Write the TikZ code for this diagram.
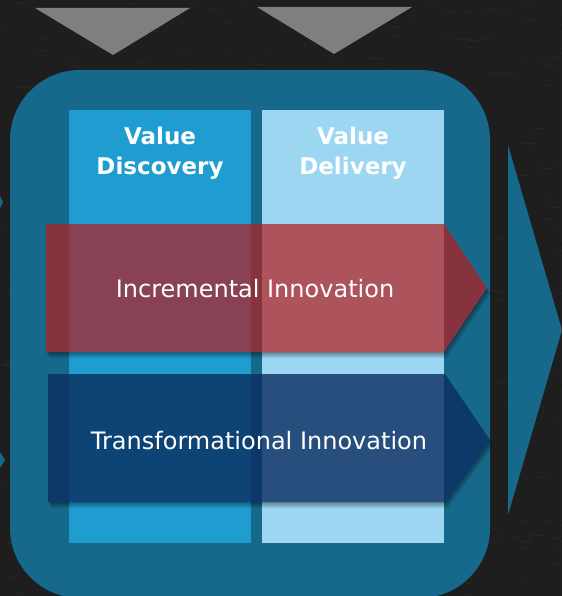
\documentclass[tikz,border=0pt]{standalone}
\usepackage{fontspec}
\setmainfont{DejaVu Sans}
\definecolor{bgdark}{HTML}{1E1E1E}
\definecolor{boxteal}{HTML}{16698A}
\definecolor{colone}{HTML}{1F9DD1}
\definecolor{coltwo}{HTML}{9DD6F0}
\definecolor{tri}{HTML}{7F7F7F}
\definecolor{arrred}{RGB}{180,30,32}
\definecolor{arrblue}{RGB}{10,45,95}
\tikzset{
  colbox/.style={draw=none, inner sep=0pt, anchor=north west, minimum width=182pt, minimum height=433pt},
  headtext/.style={text=white, font=\bfseries\fontsize{23}{28}\selectfont, anchor=base},
  arrtext/.style={text=white, font=\fontsize{24}{28}\selectfont, anchor=base},
  streak/.style={draw=gray, line width=0.8pt, opacity=0.12},
  shadowlayer/.style={fill=black, fill opacity=0.07},
}
\begin{document}
\begin{tikzpicture}[x=1pt,y=-1pt]
\fill[bgdark] (0,0) rectangle (562,596);
\useasboundingbox (0,0) rectangle (562,596);
% background texture
\pgfmathsetseed{42}
\foreach \i in {1,...,500}{
  \pgfmathsetmacro{\sx}{random(0,562)}
  \pgfmathsetmacro{\sy}{random(0,596)}
  \pgfmathsetmacro{\sl}{random(3,14)}
  \draw[streak] (\sx,\sy) -- ++(\sl,0.4);
}
% gray triangles at top
\fill[tri] (35,8) -- (190,8) -- (113,55) -- cycle;
\fill[tri] (257,7) -- (412,7) -- (334,54) -- cycle;
% left small arrow tips
\fill[boxteal] (0,196) -- (3,202) -- (0,208) -- cycle;
\fill[boxteal] (0,452) -- (5,460) -- (0,468) -- cycle;
% right big arrow
\fill[boxteal] (508,145) -- (562,330) -- (508,515) -- cycle;
% big rounded box
\fill[boxteal, rounded corners=70pt] (10,70) rectangle (490,598);
% columns
\node[colbox, fill=colone] (disc) at (69,110) {};
\node[colbox, fill=coltwo] (deli) at (262,110) {};
\node[headtext] (discA) at (160,145) {Value};
\node[headtext] (discB) at (160,174) {Discovery};
\node[headtext] (deliA) at (353,145) {Value};
\node[headtext] (deliB) at (353,174) {Delivery};
% shadows of the arrows, outside the arrows only
\begin{scope}[even odd rule]
  \clip (0,0) rectangle (562,596)
    (46,224) -- (444,224) -- (487,288) -- (444,352) -- (46,352) -- cycle
    (48,374) -- (445,374) -- (490,440) -- (445,502) -- (48,502) -- cycle;
  \foreach \d in {1,2,3,4,5,6}{
    \fill[shadowlayer] ([shift={(0.5*\d,\d)}]46,224) -- ([shift={(0.5*\d,\d)}]444,224) -- ([shift={(0.5*\d,\d)}]487,288) -- ([shift={(0.5*\d,\d)}]444,352) -- ([shift={(0.5*\d,\d)}]46,352) -- cycle;
    \fill[shadowlayer] ([shift={(0.5*\d,\d)}]48,374) -- ([shift={(0.5*\d,\d)}]445,374) -- ([shift={(0.5*\d,\d)}]490,440) -- ([shift={(0.5*\d,\d)}]445,502) -- ([shift={(0.5*\d,\d)}]48,502) -- cycle;
  }
\end{scope}
% red arrow
\fill[arrred, fill opacity=0.71] (46,224) -- (444,224) -- (487,288) -- (444,352) -- (46,352) -- cycle;
\node[arrtext] (incr) at (255,297.3) {Incremental Innovation};
% blue arrow
\fill[arrblue, fill opacity=0.8] (48,374) -- (445,374) -- (490,440) -- (445,502) -- (48,502) -- cycle;
\node[arrtext] (trans) at (259,449.3) {Transformational Innovation};
\end{tikzpicture}
\end{document}
